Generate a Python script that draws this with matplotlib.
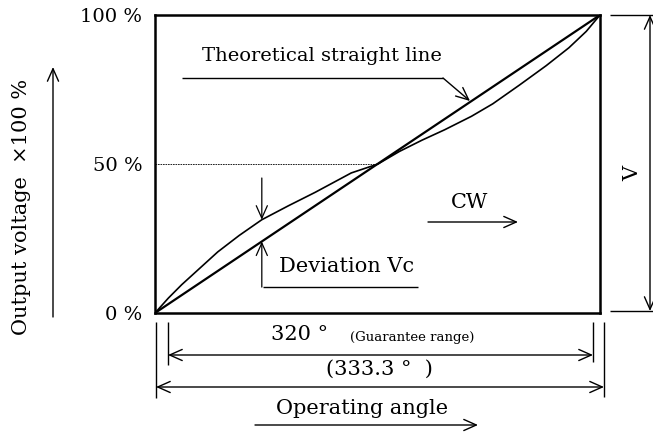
import matplotlib.pyplot as plt

# operating angle (deg) and output voltage (%)
angle = [0, 10, 20, 47, 63, 80, 100, 120, 147, 167, 183, 200, 217, 237, 253, 273, 293, 310, 323, 333.3]
output = [0, 5, 9.5, 20.5, 26, 31.3, 36, 40.5, 47, 50, 54.2, 58, 61.5, 66, 70.2, 76.5, 83, 89, 94.5, 100]
ideal_angle = [0, 333.3]
ideal_output = [0, 100]
ytick_vals = [0, 50, 100]
ytick_labels = ["0 %", "50 %", "100 %"]
dev_angle = 80  # where the deviation is marked
guarantee = 320
total = 333.3

plt.rcParams['font.family'] = 'DejaVu Serif'
W, H = 653, 432
fig = plt.figure(figsize=(W / 100, H / 100), dpi=100)

# main box in pixels: x 155..600, y 15..313
ax = fig.add_axes([155 / W, (H - 313) / H, 445 / W, 298 / H])
ax.set_xlim(0, total)
ax.set_ylim(0, 100)
ax.plot(ideal_angle, ideal_output, color='black', lw=1.6)
ax.plot(angle, output, color='black', lw=1.2)
ax.plot([0, 165], [50, 50], color='black', lw=0.6, ls=(0, (2, 1)))
ax.set_xticks([])
ax.set_yticks(ytick_vals)
ax.set_yticklabels(ytick_labels, fontsize=14)
ax.tick_params(axis='y', length=0, pad=9)
for s in ax.spines.values():
    s.set_linewidth(1.8)

# deviation arrows, tips on the curve and on the straight line
i = angle.index(dev_angle)
ideal_at = dev_angle / total * 100
arr = dict(arrowstyle='->,head_length=0.45,head_width=0.2', color='black', lw=0.9,
           mutation_scale=20, shrinkA=0, shrinkB=0)
ax.annotate('', xy=(dev_angle, output[i]), xytext=(dev_angle, 45.3), arrowprops=arr,
            annotation_clip=False)
ax.annotate('', xy=(dev_angle, ideal_at), xytext=(dev_angle, 8.7), arrowprops=arr,
            annotation_clip=False)

# overlay in pixel coordinates for the drawing annotations
d = fig.add_axes([0, 0, 1, 1])
d.set_xlim(0, W)
d.set_ylim(H, 0)
d.axis('off')
d.patch.set_alpha(0)

def seg(x0, y0, x1, y1, lw=1.0):
    d.plot([x0, x1], [y0, y1], color='black', lw=lw, solid_capstyle='butt')

def arrow(x0, y0, x1, y1, style='->'):
    d.annotate('', xy=(x1, y1), xytext=(x0, y0),
               arrowprops=dict(arrowstyle=style + ',head_length=0.45,head_width=0.2',
                               color='black', lw=1.0, mutation_scale=20,
                               shrinkA=0, shrinkB=0))

# theoretical straight line label
d.text(202, 56, "Theoretical straight line", fontsize=14, va='center', ha='left')
seg(182, 78, 443, 78)
arrow(443, 78, 470, 101)

# deviation label
seg(263, 287, 418, 287)
d.text(279, 266, "Deviation Vc", fontsize=15, va='center', ha='left')

# CW
d.text(451, 202, "CW", fontsize=15, va='center', ha='left')
arrow(428, 222, 518, 222)

# V dimension
seg(610, 15, 653, 15)
seg(610, 311, 653, 311)
arrow(650, 15, 650, 311, style='<->')
d.text(633, 173, "V", fontsize=15, rotation=90, va='center', ha='center')

# y label with arrow
d.text(22, 207, "Output voltage  \u00d7100 %", fontsize=15, rotation=90,
       va='center', ha='center')
arrow(53, 317, 53, 67)

# angle dimensions
seg(156, 322, 156, 398)
seg(168, 322, 168, 365)
seg(593, 322, 593, 362)
seg(604, 322, 604, 397)
arrow(168, 355, 593, 355, style='<->')
arrow(156, 387, 604, 387, style='<->')
d.text(300, 335, f"{guarantee} \u00b0", fontsize=15, va='center', ha='center')
d.text(412, 337, "(Guarantee range)", fontsize=9.5, va='center', ha='center')
d.text(379, 369, f"({total} \u00b0  )", fontsize=15, va='center', ha='center')
d.text(362, 408, "Operating angle", fontsize=15, va='center', ha='center')
arrow(255, 425, 478, 425)

fig.savefig('out.png', dpi=100)
